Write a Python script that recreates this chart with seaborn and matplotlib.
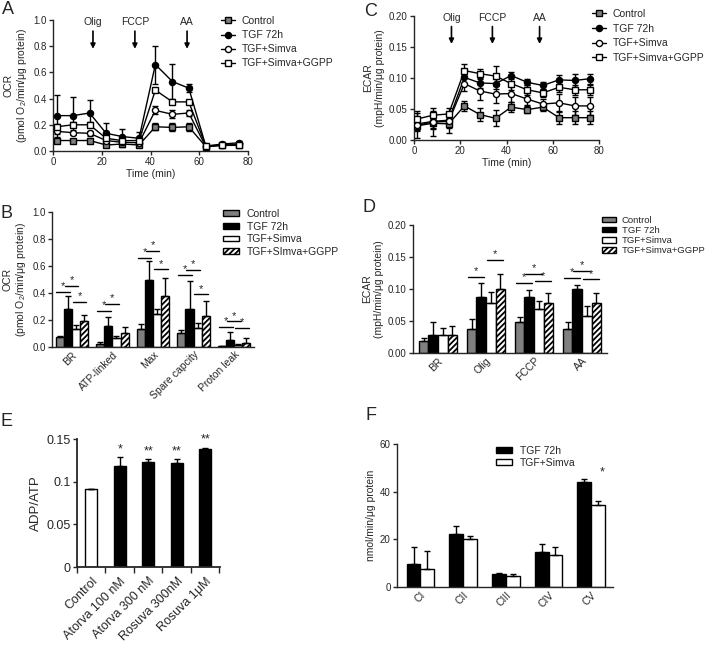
import numpy as np
import pandas as pd
import matplotlib
matplotlib.use("Agg")
import matplotlib.pyplot as plt
from matplotlib.patches import Patch
from matplotlib.lines import Line2D
from matplotlib.container import BarContainer
import seaborn as sns

sns.set_style("ticks")
plt.rcParams["font.family"] = ["Liberation Sans", "DejaVu Sans"]
plt.rcParams["mathtext.fontset"] = "custom"
plt.rcParams["mathtext.rm"] = "Liberation Sans"
plt.rcParams["mathtext.it"] = "Liberation Sans:italic"
plt.rcParams["hatch.linewidth"] = 1.3
plt.rcParams["axes.linewidth"] = 1.0
plt.rcParams["xtick.major.width"] = 1.0
plt.rcParams["ytick.major.width"] = 1.0
plt.rcParams["xtick.major.size"] = 3
plt.rcParams["ytick.major.size"] = 3

# ---------------- data ----------------
groups = ["Control", "TGF 72h", "TGF+Simva", "TGF+Simva+GGPP"]
time_min = [1.5, 8.2, 15, 21.8, 28.5, 35.3, 42, 49, 55.7, 62.7, 69.5, 76.3]

ocr_control = [0.08, 0.08, 0.08, 0.046, 0.053, 0.046, 0.185, 0.18, 0.185, 0.033, 0.043, 0.043]
ocr_tgf = [0.27, 0.27, 0.29, 0.135, 0.11, 0.097, 0.66, 0.53, 0.48, 0.038, 0.053, 0.063]
ocr_simva = [0.15, 0.14, 0.135, 0.08, 0.066, 0.063, 0.31, 0.28, 0.29, 0.033, 0.045, 0.05]
ocr_ggpp = [0.185, 0.2, 0.2, 0.097, 0.079, 0.08, 0.465, 0.375, 0.375, 0.038, 0.045, 0.045]
ocr_control_err = [0.01, 0.01, 0.01, 0.01, 0.02, 0.015, 0.025, 0.03, 0.03, 0.01, 0.01, 0.01]
ocr_tgf_err = [0.16, 0.14, 0.10, 0.075, 0.06, 0.05, 0.145, 0.135, 0.03, 0.01, 0.01, 0.01]
ocr_simva_err = [0.02, 0.02, 0.02, 0.01, 0.01, 0.01, 0.03, 0.03, 0.025, 0.01, 0.01, 0.01]
ocr_ggpp_err = [0.02, 0.02, 0.02, 0.02, 0.01, 0.01, 0.015, 0.01, 0.01, 0.01, 0.01, 0.01]

ecar_control = [0.023, 0.027, 0.026, 0.055, 0.041, 0.035, 0.053, 0.049, 0.053, 0.036, 0.036, 0.036]
ecar_tgf = [0.026, 0.03, 0.032, 0.101, 0.092, 0.091, 0.104, 0.093, 0.088, 0.097, 0.096, 0.099]
ecar_simva = [0.024, 0.029, 0.03, 0.091, 0.079, 0.074, 0.075, 0.066, 0.058, 0.06, 0.055, 0.055]
ecar_ggpp = [0.034, 0.04, 0.042, 0.112, 0.107, 0.103, 0.091, 0.081, 0.076, 0.085, 0.081, 0.081]
ecar_control_err = [0.02, 0.02, 0.015, 0.008, 0.01, 0.013, 0.008, 0.006, 0.006, 0.01, 0.01, 0.01]
ecar_tgf_err = [0.01, 0.01, 0.008, 0.01, 0.008, 0.008, 0.005, 0.005, 0.006, 0.008, 0.01, 0.008]
ecar_simva_err = [0.01, 0.012, 0.01, 0.012, 0.015, 0.015, 0.013, 0.01, 0.008, 0.015, 0.015, 0.015]
ecar_ggpp_err = [0.012, 0.012, 0.01, 0.01, 0.008, 0.016, 0.01, 0.008, 0.006, 0.008, 0.008, 0.008]

injections = ["Olig", "FCCP", "AA"]
injection_time_A = [16.4, 33.6, 55]
injection_time_C = [16.2, 33.9, 54.3]

b_cats = ["BR", "ATP-linked", "Max", "Spare capcity", "Proton leak"]
b_control = [0.075, 0.02, 0.135, 0.105, 0.006]
b_tgf = [0.28, 0.155, 0.5, 0.28, 0.05]
b_simva = [0.135, 0.07, 0.245, 0.14, 0.015]
b_ggpp = [0.19, 0.105, 0.38, 0.23, 0.03]
b_control_err = [0.01, 0.02, 0.035, 0.02, 0.005]
b_tgf_err = [0.1, 0.065, 0.14, 0.21, 0.06]
b_simva_err = [0.03, 0.015, 0.035, 0.035, 0.005]
b_ggpp_err = [0.05, 0.04, 0.13, 0.11, 0.04]
# significance: (category index, bar i, bar j, height)
b_sig = [(0, 0, 1, 0.41), (0, 1, 2, 0.45), (0, 2, 3, 0.335),
         (1, 0, 1, 0.27), (1, 1, 2, 0.32),
         (2, 0, 1, 0.66), (2, 1, 2, 0.71), (2, 2, 3, 0.575),
         (3, 0, 1, 0.535), (3, 1, 2, 0.57), (3, 2, 3, 0.39),
         (4, 0, 1, 0.15), (4, 1, 2, 0.19), (4, 2, 3, 0.14)]

d_cats = ["BR", "Olig", "FCCP", "AA"]
d_control = [0.018, 0.038, 0.049, 0.038]
d_tgf = [0.028, 0.088, 0.088, 0.1]
d_simva = [0.028, 0.078, 0.069, 0.058]
d_ggpp = [0.028, 0.1, 0.078, 0.078]
d_control_err = [0.005, 0.015, 0.007, 0.011]
d_tgf_err = [0.02, 0.021, 0.011, 0.007]
d_simva_err = [0.011, 0.018, 0.012, 0.015]
d_ggpp_err = [0.014, 0.024, 0.016, 0.015]
d_sig = [(1, 0, 1, 0.119), (1, 2, 3, 0.145),
         (2, 0, 1, 0.11), (2, 1, 2, 0.124), (2, 2, 3, 0.112),
         (3, 0, 1, 0.117), (3, 1, 2, 0.128), (3, 2, 3, 0.115)]

e_cats = ["Control", "Atorva 100 nM", "Atorva 300 nM", "Rosuva 300nM", "Rosuva 1\u03bcM"]
e_ratio = [0.0916, 0.118, 0.1235, 0.122, 0.138]
e_err = [0.0, 0.011, 0.003, 0.004, 0.002]
e_stars = ["", "*", "**", "**", "**"]

f_cats = ["CI", "CII", "CIII", "CIV", "CV"]
f_groups = ["TGF 72h", "TGF+Simva"]
f_tgf = [9.6, 22.1, 5.6, 14.5, 44.1]
f_simva = [7.7, 20.0, 4.8, 13.5, 34.4]
f_tgf_err = [7.0, 3.7, 0.3, 3.5, 1.4]
f_simva_err = [7.5, 1.3, 0.5, 3.1, 1.8]
f_stars = ["", "", "", "", "*"]

# ---------------- styles ----------------
GRAY = "#7f7f7f"
bar_colors = [GRAY, "black", "white", "white"]
marker_style = {
    "Control": dict(marker="s", markerfacecolor=GRAY),
    "TGF 72h": dict(marker="o", markerfacecolor="black"),
    "TGF+Simva": dict(marker="o", markerfacecolor="white"),
    "TGF+Simva+GGPP": dict(marker="s", markerfacecolor="white"),
}
MS = 4.4

W, H = 709, 655
fig = plt.figure(figsize=(W / 100, H / 100), dpi=100)


def rect(l, r, t, b):
    return [l / W, 1 - b / H, (r - l) / W, (b - t) / H]


TICK_FS = 7
CAT_FS = 7.5
LAB_FS = 7.5
LEG_FS = 7.5


def style_ax(ax, fs=TICK_FS):
    sns.despine(ax=ax)
    ax.tick_params(labelsize=fs, length=3, width=1.0, pad=1.5)
    for s in ["left", "bottom"]:
        ax.spines[s].set_linewidth(1.0)


def line_panel(ax, series, errs, ylim, yticks, yfmt, ylabel, inj_x, txt_y, arr_top, arr_bot):
    recs = []
    for g, vals in zip(groups, series):
        for t, v in zip(time_min, vals):
            recs.append({"t": t, "v": v, "g": g})
    df = pd.DataFrame(recs)
    for g, vals, e in zip(groups[::-1], series[::-1], errs[::-1]):
        ax.errorbar(time_min, vals, yerr=e, fmt="none", ecolor="black",
                    elinewidth=1.0, capsize=2.2, capthick=1.0, zorder=2)
    for g in groups:
        sub = df[df.g == g]
        sns.lineplot(data=sub, x="t", y="v", ax=ax, color="black", lw=1.0,
                     markersize=MS, markeredgecolor="black", markeredgewidth=1.0,
                     zorder=3, **marker_style[g])
    ax.set_xlim(0, 80)
    ax.set_ylim(*ylim)
    ax.set_xticks([0, 20, 40, 60, 80])
    ax.set_yticks(yticks)
    ax.set_yticklabels([yfmt.format(v) for v in yticks])
    ax.set_xlabel("Time (min)", fontsize=LAB_FS, labelpad=1)
    ax.set_ylabel(ylabel, fontsize=LAB_FS, labelpad=3)
    style_ax(ax)
    for lab, x in zip(injections, inj_x):
        ax.text(x, txt_y, lab, ha="center", va="center", fontsize=LEG_FS, clip_on=False)
        ax.annotate("", xy=(x, arr_bot), xytext=(x, arr_top),
                    arrowprops=dict(arrowstyle="-|>", color="black", lw=1.2,
                                    mutation_scale=7, shrinkA=0, shrinkB=0))


def line_legend(ax, x, y, spacing):
    handles = [Line2D([0], [0], color="black", lw=1.0, markersize=MS,
                      markeredgecolor="black", **marker_style[g]) for g in groups]
    fig.legend(handles, groups, loc="upper left", bbox_to_anchor=(x / W, 1 - y / H),
               frameon=False, fontsize=LEG_FS, borderpad=0, handlelength=1.3,
               handletextpad=0.7, labelspacing=spacing, borderaxespad=0)


def grouped_bars(ax, cats, groups_, vals, errs, colors, width, hatch_idx=None):
    recs = []
    for g, vv in zip(groups_, vals):
        for c, v in zip(cats, vv):
            recs.append({"cat": c, "g": g, "v": v})
    df = pd.DataFrame(recs)
    sns.barplot(data=df, x="cat", y="v", hue="g", order=cats, hue_order=groups_,
                palette=colors, edgecolor="black", linewidth=1.0, errorbar=None,
                width=width, gap=0, legend=False, ax=ax, saturation=1)
    conts = [c for c in ax.containers if isinstance(c, BarContainer)]
    centers = []
    for h, cont in enumerate(conts):
        xs = [b.get_x() + b.get_width() / 2 for b in cont]
        centers.append(xs)
        if hatch_idx is not None and h == hatch_idx:
            for b in cont:
                b.set_hatch("//////")
    for h, xs in enumerate(centers):
        ax.errorbar(xs, vals[h], yerr=[np.zeros(len(xs)), errs[h]], fmt="none",
                    ecolor="black", elinewidth=1.0, capsize=2.2, capthick=1.0, zorder=1)
    bw = conts[0][0].get_width()
    return centers, bw


def draw_sig(ax, centers, bw, sig, dy):
    for c, i, j, y in sig:
        x0 = centers[i][c] - 0.4 * bw
        x1 = centers[j][c] + 0.3 * bw
        ax.plot([x0, x1], [y, y], color="black", lw=1.0, clip_on=False)
        ax.text((x0 + x1) / 2, y + dy, "*", ha="center", va="bottom", fontsize=8, clip_on=False)


def bar_legend(labels, colors, x, y, spacing, hatch_idx=3, fs=LEG_FS, tpad=0.8):
    handles = []
    for k, (lab, col) in enumerate(zip(labels, colors)):
        handles.append(Patch(facecolor=col, edgecolor="black", lw=1.0,
                             hatch="//////" if k == hatch_idx else None))
    fig.legend(handles, labels, loc="upper left", bbox_to_anchor=(x / W, 1 - y / H),
               frameon=False, fontsize=fs, borderpad=0, handlelength=1.5,
               handleheight=0.5, handletextpad=tpad, labelspacing=spacing, borderaxespad=0)


# ---------------- Panel A ----------------
axA = fig.add_axes(rect(53, 248, 20, 151))
line_panel(axA, [ocr_control, ocr_tgf, ocr_simva, ocr_ggpp],
           [ocr_control_err, ocr_tgf_err, ocr_simva_err, ocr_ggpp_err],
           (0, 1.0), [0, 0.2, 0.4, 0.6, 0.8, 1.0], "{:.1f}",
           "OCR\n(pmol O$_{\\mathregular{2}}$/min/\u03bcg protein)",
           injection_time_A, 0.985, 0.915, 0.78)
line_legend(axA, 221, 16, 0.4)

# ---------------- Panel C ----------------
axC = fig.add_axes(rect(414, 599, 16, 140))
line_panel(axC, [ecar_control, ecar_tgf, ecar_simva, ecar_ggpp],
           [ecar_control_err, ecar_tgf_err, ecar_simva_err, ecar_ggpp_err],
           (0, 0.20), [0, 0.05, 0.10, 0.15, 0.20], "{:.2f}",
           "ECAR\n(mpH/min/\u03bcg protein)",
           injection_time_C, 0.197, 0.183, 0.155)
line_legend(axC, 592, 9, 0.45)

# ---------------- Panel B ----------------
axB = fig.add_axes(rect(52, 254, 212, 347))
cB, bwB = grouped_bars(axB, b_cats, groups, [b_control, b_tgf, b_simva, b_ggpp],
                       [b_control_err, b_tgf_err, b_simva_err, b_ggpp_err],
                       bar_colors, 0.8, hatch_idx=3)
draw_sig(axB, cB, bwB, b_sig, 0.005)
axB.set_xlim(-0.49, 4.49)
axB.set_ylim(0, 1.0)
axB.set_yticks([0, 0.2, 0.4, 0.6, 0.8, 1.0])
axB.set_yticklabels(["0.0", "0.2", "0.4", "0.6", "0.8", "1.0"])
axB.set_xlabel("")
axB.set_ylabel("OCR\n(pmol O$_{\\mathregular{2}}$/min/\u03bcg protein)", fontsize=LAB_FS, labelpad=3)
style_ax(axB)
axB.tick_params(axis="x", length=0, pad=2)
axB.set_xticks(range(len(b_cats)))
axB.set_xticklabels(b_cats, rotation=45, ha="right", rotation_mode="anchor", fontsize=CAT_FS)
bar_legend(["Control", "TGF 72h", "TGF+Simva", "TGF+SImva+GGPP"], bar_colors, 223, 209, 0.25)

# ---------------- Panel D ----------------
axD = fig.add_axes(rect(413, 607, 225, 353))
cD, bwD = grouped_bars(axD, d_cats, groups, [d_control, d_tgf, d_simva, d_ggpp],
                       [d_control_err, d_tgf_err, d_simva_err, d_ggpp_err],
                       bar_colors, 0.8, hatch_idx=3)
draw_sig(axD, cD, bwD, d_sig, 0.001)
axD.set_xlim(-0.52, 3.52)
axD.set_ylim(0, 0.20)
axD.set_yticks([0, 0.05, 0.10, 0.15, 0.20])
axD.set_yticklabels(["0.00", "0.05", "0.10", "0.15", "0.20"])
axD.set_xlabel("")
axD.set_ylabel("ECAR\n(mpH/min/\u03bcg protein)", fontsize=LAB_FS, labelpad=3)
style_ax(axD)
axD.tick_params(axis="x", length=0, pad=2)
axD.set_xticks(range(len(d_cats)))
axD.set_xticklabels(d_cats, rotation=45, ha="right", rotation_mode="anchor", fontsize=CAT_FS)
bar_legend(groups, bar_colors, 602, 216, 0.12, fs=6.8, tpad=0.6)

# ---------------- Panel E ----------------
axE = fig.add_axes(rect(77, 220, 439, 567))
dfE = pd.DataFrame({"cat": e_cats, "v": e_ratio})
sns.barplot(data=dfE, x="cat", y="v", hue="cat", order=e_cats, hue_order=e_cats,
            palette=["white", "black", "black", "black", "black"], edgecolor="black",
            linewidth=1.0, errorbar=None, width=0.42, legend=False, ax=axE, saturation=1)
contsE = [c for c in axE.containers if isinstance(c, BarContainer)]
xsE = [c[0].get_x() + c[0].get_width() / 2 for c in contsE]
axE.errorbar(xsE, e_ratio, yerr=[np.zeros(len(e_err)), e_err], fmt="none", ecolor="black",
             elinewidth=1.0, capsize=2.5, capthick=1.0, zorder=1)
for x, v, e, s in zip(xsE, e_ratio, e_err, e_stars):
    if s:
        axE.text(x, v + e + 0.002, s, ha="center", va="bottom", fontsize=9)
axE.set_xlim(-0.48, 4.52)
axE.set_ylim(0, 0.15)
axE.set_yticks([0, 0.05, 0.1, 0.15])
axE.set_yticklabels(["0", "0.05", "0.1", "0.15"])
axE.set_xlabel("")
axE.set_ylabel("ADP/ATP", fontsize=9.5, labelpad=3)
style_ax(axE, fs=9)
axE.spines["left"].set_linewidth(1.3)
axE.spines["bottom"].set_linewidth(1.3)
axE.set_xticks(np.arange(-0.5, 5.0, 1.0))
axE.set_xticklabels([])
axE.set_xticks(range(len(e_cats)), minor=True)
axE.set_xticklabels(e_cats, minor=True, rotation=45, ha="right", rotation_mode="anchor", fontsize=9)
axE.tick_params(axis="x", which="minor", length=0, pad=6)
axE.tick_params(axis="x", which="major", length=4)

# ---------------- Panel F ----------------
axF = fig.add_axes(rect(397, 613, 444, 587))
cF, bwF = grouped_bars(axF, f_cats, f_groups, [f_tgf, f_simva], [f_tgf_err, f_simva_err],
                       ["black", "white"], 0.65)
for i, s in enumerate(f_stars):
    if s:
        axF.text(cF[1][i] + 0.3 * bwF, f_simva[i] + f_simva_err[i] + 9.5, s,
                 ha="center", va="bottom", fontsize=9)
axF.set_xlim(-0.55, 4.51)
axF.set_ylim(0, 60)
axF.set_yticks([0, 20, 40, 60])
axF.set_xlabel("")
axF.set_ylabel("nmol/min/\u03bcg protein", fontsize=LAB_FS, labelpad=3)
style_ax(axF)
axF.tick_params(axis="x", length=0, pad=2)
axF.set_xticks(range(len(f_cats)))
axF.set_xticklabels(f_cats, rotation=45, ha="right", rotation_mode="anchor", fontsize=CAT_FS)
bar_legend(f_groups, ["black", "white"], 496, 446, 0.2, hatch_idx=None)

# ---------------- panel letters ----------------
for lab, x, y in [("A", 8, 9), ("B", 7, 213), ("C", 371, 12), ("D", 369, 207),
                  ("E", 7, 421), ("F", 371, 415)]:
    fig.text(x / W, 1 - y / H, lab, fontsize=13, ha="center", va="center")

fig.savefig("out.png", dpi=100)
